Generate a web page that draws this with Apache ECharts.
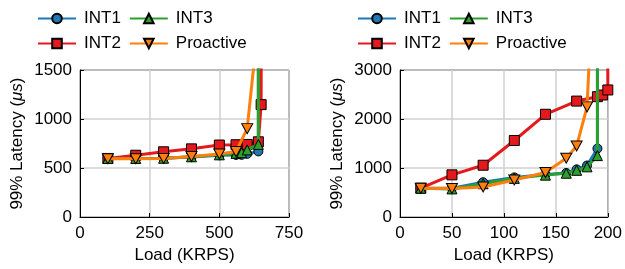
<!DOCTYPE html>
<html>
<head>
<meta charset="utf-8">
<script src="https://cdn.jsdelivr.net/npm/echarts@6/dist/echarts.min.js"></script>
<style>
  html, body { margin: 0; padding: 0; background: #fff; }
  #chart { width: 625px; height: 269px; }
</style>
</head>
<body>
<div id="chart"></div>
<script>
const chart = echarts.init(document.getElementById('chart'));

// left panel (load in KRPS, latency in us)
const leftInt1Load = [100, 200, 300, 400, 500, 560, 580, 600, 640, 640];
const leftInt1Lat  = [598, 598, 600, 612, 630, 634, 635, 645, 670, 5000];
const leftInt2Load = [100, 200, 300, 400, 500, 560, 600, 640, 650, 652];
const leftInt2Lat  = [598, 631, 666, 696, 735, 738, 741, 768, 1147, 5000];
const leftInt3Load = [100, 200, 300, 400, 500, 560, 580, 600, 640, 640];
const leftInt3Lat  = [598, 598, 600, 615, 635, 650, 657, 685, 741, 5000];
const leftProLoad  = [100, 200, 300, 400, 500, 560, 600, 630];
const leftProLat   = [595, 595, 598, 618, 644, 668, 902, 1720];

// right panel
const rightInt1Load = [20, 50, 80, 110, 140, 160, 170, 180, 190, 190];
const rightInt1Lat  = [590, 590, 712, 810, 870, 900, 974, 1052, 1398, 10000];
const rightInt2Load = [20, 50, 80, 110, 140, 170, 190, 195, 200, 200];
const rightInt2Lat  = [590, 862, 1058, 1562, 2097, 2366, 2456, 2490, 2593, 10000];
const rightInt3Load = [20, 50, 80, 110, 140, 160, 170, 180, 190, 190];
const rightInt3Lat  = [590, 575, 680, 790, 856, 895, 954, 1025, 1254, 10000];
const rightProLoad  = [20, 50, 80, 110, 140, 160, 170, 180, 185];
const rightProLat   = [590, 585, 614, 758, 908, 1202, 1450, 2248, 4500];

const seriesNames = ['INT1', 'INT2', 'INT3', 'Proactive'];
const colors = ['#1f77b4', '#e3191c', '#2ca02c', '#ff7f0e'];
const symbols = ['circle', 'rect', 'triangle', 'path://M0,0 L10,0 L5,9 Z'];
const symbolSizes = [9, 10, 10, [11, 10]];

const FONT = 'Liberation Sans';

function zip(xs, ys) {
    return xs.map((x, i) => [x, ys[i]]);
}

function makeSeries(idx, gridIdx, xs, ys) {
    return {
        name: seriesNames[idx],
        type: 'line',
        xAxisIndex: gridIdx,
        yAxisIndex: gridIdx,
        data: zip(xs, ys),
        symbol: symbols[idx],
        symbolSize: symbolSizes[idx],
        clip: true,
        lineStyle: { color: colors[idx], width: 3 },
        itemStyle: { color: colors[idx], borderColor: '#000', borderWidth: 1 },
        emphasis: { disabled: true },
        z: 2 + idx
    };
}

function xAxisFor(gridIdx, max, interval) {
    return {
        type: 'value',
        gridIndex: gridIdx,
        min: 0, max: max, interval: interval,
        name: 'Load (KRPS)',
        nameLocation: 'middle',
        nameGap: 26,
        nameTextStyle: { fontFamily: FONT, fontSize: 17, color: '#000' },
        axisLine: { lineStyle: { color: '#000', width: 1 } },
        axisTick: { inside: true, length: 4, lineStyle: { color: '#000' } },
        axisLabel: { fontFamily: FONT, fontSize: 17, color: '#000', margin: 8, formatter: (v) => String(v) },
        splitLine: { show: true, lineStyle: { color: '#d0d0d0', width: 1.5 } }
    };
}

function yAxisFor(gridIdx, max, interval, gap) {
    return {
        type: 'value',
        gridIndex: gridIdx,
        min: 0, max: max, interval: interval,
        name: '99% Latency ({it|μs})',
        nameLocation: 'middle',
        nameGap: gap,
        nameTextStyle: {
            fontFamily: FONT, fontSize: 17, color: '#000',
            rich: { it: { fontFamily: FONT, fontSize: 17, fontStyle: 'italic', color: '#000' } }
        },
        axisLine: { show: true, lineStyle: { color: '#000', width: 1 } },
        axisTick: { show: true, inside: true, length: 4, lineStyle: { color: '#000' } },
        axisLabel: { fontFamily: FONT, fontSize: 17, color: '#000', margin: 8, formatter: (v) => String(v) },
        splitLine: { show: true, lineStyle: { color: '#d0d0d0', width: 1.5 } }
    };
}

function legendRow(left, top, names) {
    return {
        left: left,
        top: top,
        itemWidth: 38,
        itemHeight: 12,
        itemGap: 8,
        data: names,
        textStyle: { fontFamily: FONT, fontSize: 17, color: '#000', padding: [0, 0, 0, 3] },
        selectedMode: false
    };
}

const option = {
    animation: false,
    backgroundColor: '#fff',
    legend: [
        legendRow(32, 5, ['INT1', 'INT3']),
        legendRow(32, 30, ['INT2', 'Proactive']),
        legendRow(352, 5, ['INT1', 'INT3']),
        legendRow(352, 30, ['INT2', 'Proactive'])
    ],
    grid: [
        { left: 80, top: 70, width: 209, height: 153, show: true, borderColor: '#000', borderWidth: 1, backgroundColor: 'transparent' },
        { left: 400, top: 70, width: 209, height: 153, show: true, borderColor: '#000', borderWidth: 1, backgroundColor: 'transparent' }
    ],
    xAxis: [xAxisFor(0, 750, 250), xAxisFor(1, 200, 50)],
    yAxis: [yAxisFor(0, 1500, 500, 54), yAxisFor(1, 3000, 1000, 54)],
    series: [
        makeSeries(0, 0, leftInt1Load, leftInt1Lat),
        makeSeries(1, 0, leftInt2Load, leftInt2Lat),
        makeSeries(2, 0, leftInt3Load, leftInt3Lat),
        makeSeries(3, 0, leftProLoad, leftProLat),
        makeSeries(0, 1, rightInt1Load, rightInt1Lat),
        makeSeries(1, 1, rightInt2Load, rightInt2Lat),
        makeSeries(2, 1, rightInt3Load, rightInt3Lat),
        makeSeries(3, 1, rightProLoad, rightProLat)
    ]
};

chart.setOption(option);
</script>
</body>
</html>
